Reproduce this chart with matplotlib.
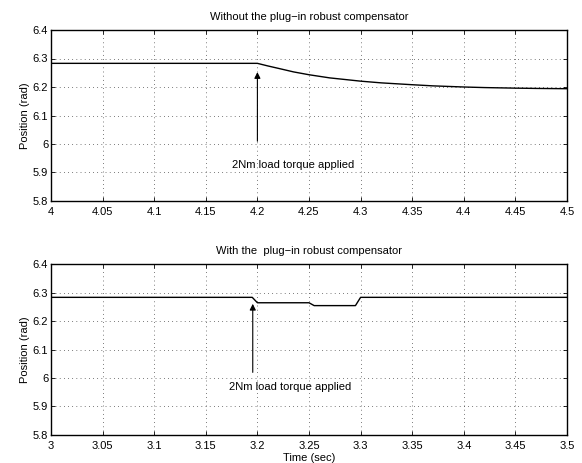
import matplotlib.pyplot as plt
import numpy as np

plt.rcParams['font.family'] = ['Liberation Sans', 'DejaVu Sans']

# top panel: without compensator
t_top = [4.0, 4.2, 4.21, 4.222, 4.235, 4.25, 4.27, 4.3, 4.32, 4.35, 4.37, 4.4, 4.42, 4.45, 4.47, 4.5]
pos_top = [6.283, 6.283, 6.274, 6.264, 6.253, 6.243, 6.232, 6.2205, 6.2145, 6.208, 6.204,
           6.2, 6.198, 6.196, 6.195, 6.194]

# bottom panel: with compensator
t_bot = [3.0, 3.195, 3.2, 3.25, 3.255, 3.295, 3.3, 3.5]
pos_bot = [6.283, 6.283, 6.264, 6.264, 6.254, 6.254, 6.283, 6.283]

titles = ['Without the plug\u2212in robust compensator', 'With the  plug\u2212in robust compensator']
note = '2Nm load torque applied'

# arrow positions: (x, tail y, tip y, text x, text y)
arrows = [(4.2, 6.0, 6.262, 4.235, 5.926), (3.1955, 6.01, 6.27, 3.232, 5.969)]
xlims = [(4.0, 4.5), (3.0, 3.5)]
yticks = [5.8, 5.9, 6.0, 6.1, 6.2, 6.3, 6.4]


def fmt(v):
    return ('%.2f' % v).rstrip('0').rstrip('.')


fig = plt.figure(figsize=(5.82, 4.63), dpi=100)
ax1 = fig.add_axes([51 / 582, 1 - 201 / 463, 516 / 582, 171 / 463])
ax2 = fig.add_axes([51 / 582, 1 - 435 / 463, 516 / 582, 171 / 463])

for ax, t, p, ttl, arr, xl in zip([ax1, ax2], [t_top, t_bot], [pos_top, pos_bot], titles, arrows, xlims):
    ax.plot(t, p, color='black', lw=1.0)
    ax.set_xlim(*xl)
    ax.set_ylim(5.8, 6.4)
    xt = np.round(np.arange(xl[0], xl[1] + 0.001, 0.05), 2)
    ax.set_xticks(xt)
    ax.set_xticklabels([fmt(v) for v in xt], fontsize=8)
    ax.set_yticks(yticks)
    ax.set_yticklabels([fmt(v) for v in yticks], fontsize=8)
    ax.tick_params(direction='in', top=True, right=True, length=3, width=0.6, pad=2)
    ax.tick_params(axis='x', pad=4)
    ax.grid(True, linestyle=(0, (1, 5)), color='black', lw=0.5)
    for s in ax.spines.values():
        s.set_linewidth(1.0)
    ax.set_ylabel('Position (rad)', fontsize=8, labelpad=2)
    ax.set_title(ttl, fontsize=8, pad=7)
    x, y0, y1, tx, ty = arr
    ax.annotate('', xy=(x, y1), xytext=(x, y0),
                arrowprops=dict(arrowstyle='-|>', color='black', lw=0.8, mutation_scale=9))
    ax.text(tx, ty, note, fontsize=8, ha='center', va='center')

ax2.set_xlabel('Time (sec)', fontsize=8, labelpad=2)

fig.savefig('out.png', dpi=100)
